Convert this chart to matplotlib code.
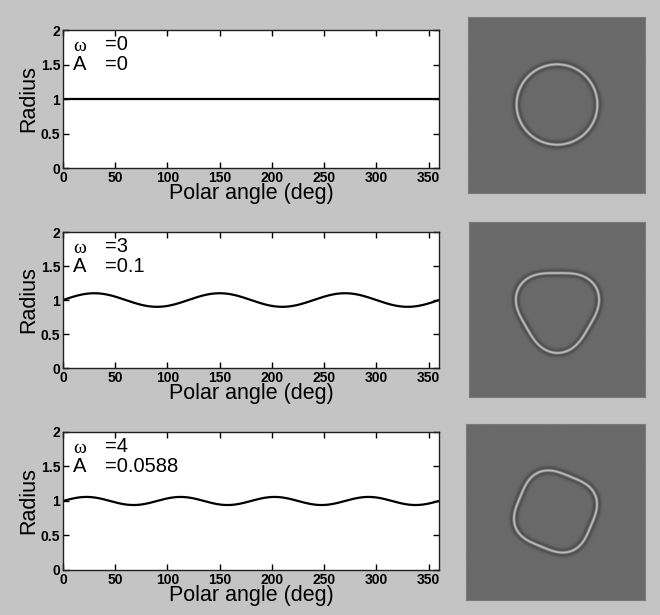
import numpy as np
import matplotlib
matplotlib.use("Agg")
import matplotlib.pyplot as plt

# radial frequency parameters shown in each row
omegas = [0, 3, 4]
amps = [0, 0.1, 0.0588]
amp_labels = ["0", "0.1", "0.0588"]
base_radius = 1.0

x_ticks = [0, 50, 100, 150, 200, 250, 300, 350]
y_ticks = [0, 0.5, 1, 1.5, 2]
y_tick_labels = ["0", "0.5", "1", "1.5", "2"]

BG = "#c4c4c4"
plt.rcParams["font.family"] = ["Liberation Sans", "DejaVu Sans"]

# axes boxes in figure fraction [left, bottom, width, height]
plot_boxes = [
    [0.0955, 0.7268, 0.5697, 0.2244],
    [0.0955, 0.4016, 0.5697, 0.2211],
    [0.0955, 0.0732, 0.5697, 0.2244],
]
img_boxes = [
    [0.7091, 0.6862, 0.2682, 0.2862],
    [0.7106, 0.3545, 0.2667, 0.2846],
    [0.7061, 0.0244, 0.2712, 0.2862],
]


def rf_image(omega, amp, n=400, r0=0.455):
    c = np.linspace(-1, 1, n)
    xx, yy = np.meshgrid(c, c)
    r = np.hypot(xx, yy)
    th = np.arctan2(yy, xx)
    d = r - r0 * (1 + amp * np.sin(omega * th))
    core = np.exp(-(d / 0.016) ** 2)
    flank = np.exp(-(d / 0.038) ** 2)
    return 0.415 + 0.6 * core - 0.24 * flank


fig = plt.figure(figsize=(6.6, 6.15), dpi=100, facecolor=BG)

theta = np.linspace(0, 360, 721)
for i in range(3):
    ax = fig.add_axes(plot_boxes[i])
    radius = base_radius * (1 + amps[i] * np.sin(omegas[i] * np.deg2rad(theta)))
    ax.plot(theta, radius, color="black", lw=1.6)
    ax.set_xlim(0, 360)
    ax.set_ylim(0, 2)
    ax.set_xticks(x_ticks)
    ax.set_yticks(y_ticks)
    ax.set_yticklabels(y_tick_labels)
    ax.tick_params(direction="in", top=True, right=True, length=4, width=1,
                   labelsize=10, pad=2)
    for lab in ax.get_xticklabels() + ax.get_yticklabels():
        lab.set_fontweight("bold")
    for sp in ax.spines.values():
        sp.set_linewidth(1)
        sp.set_color("#202020")
    ax.set_xlabel("Polar angle (deg)", fontsize=15.5, labelpad=-1)
    ax.set_ylabel("Radius", fontsize=15.5, labelpad=1)
    ax.text(0.027, 0.88, "ω", transform=ax.transAxes, fontsize=14,
            family=["Liberation Serif", "DejaVu Serif"], va="center")
    ax.text(0.112, 0.895, f"={omegas[i]}", transform=ax.transAxes,
            fontsize=14.5, va="center")
    ax.text(0.027, 0.75, "A", transform=ax.transAxes, fontsize=14.5,
            va="center")
    ax.text(0.112, 0.75, f"={amp_labels[i]}", transform=ax.transAxes,
            fontsize=14.5, va="center")

    iax = fig.add_axes(img_boxes[i])
    iax.imshow(rf_image(omegas[i], amps[i]), cmap="gray", vmin=0, vmax=1,
               origin="lower", aspect="auto", interpolation="antialiased")
    iax.set_xticks([])
    iax.set_yticks([])
    for sp in iax.spines.values():
        sp.set_color("#7a7a7a")
        sp.set_linewidth(0.8)

fig.savefig("out.png", dpi=100, facecolor=BG)
